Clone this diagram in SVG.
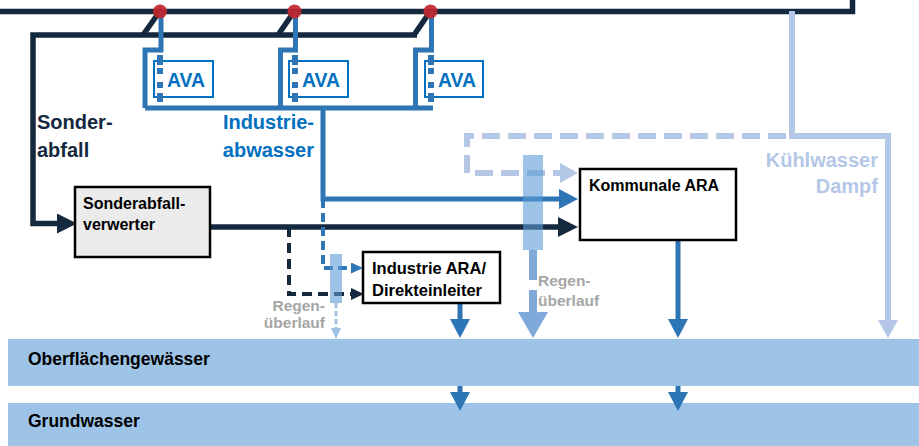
<svg xmlns="http://www.w3.org/2000/svg" width="919" height="446" viewBox="0 0 919 446">
<defs>
<style>
text{font-family:"Liberation Sans",Arial,sans-serif;font-weight:bold}
.dk{stroke:#14283e;fill:none;stroke-width:5.5}
.dkd{stroke:#14283e;fill:none;stroke-width:4;stroke-dasharray:10 6}
.bl{stroke:#2e75b6;fill:none;stroke-width:5}
.bld{stroke:#2e75b6;fill:none;stroke-width:4;stroke-dasharray:9 5}
.lt{stroke:#b4c7e7;fill:none;stroke-width:6}
.ltd{stroke:#b4c7e7;fill:none;stroke-width:6;stroke-dasharray:18 8}
.box{fill:#fff;stroke:#000;stroke-width:2.5}
.box2{fill:#ebebeb;stroke:#000;stroke-width:2.5}
.lbl{fill:#000}
.ava{fill:#fff;stroke:#0070c0;stroke-width:2}
.avat{fill:#0070c0;font-size:20px}
.strip{fill:#2e75b6}
.bar{fill:#5b9bd5;opacity:0.6}
.band{fill:#9dc3e6}
.gray{fill:#a6a6a6;font-size:15.5px}
.dot{fill:#c0272d;opacity:0.92}
.rg{stroke:#7fa9d9;fill:none;stroke-width:8}
.rgs{stroke:#9dc3e6;fill:none;stroke-width:3;stroke-dasharray:5 3}
</style>
<marker id="aDk" markerUnits="userSpaceOnUse" orient="auto" markerWidth="20" markerHeight="20" refX="0" refY="10"><path d="M0,0 L20,10 L0,20 z" fill="#14283e"/></marker>
<marker id="aBl" markerUnits="userSpaceOnUse" orient="auto" markerWidth="19" markerHeight="20" refX="0" refY="10"><path d="M0,0 L19,10 L0,20 z" fill="#2e75b6"/></marker>
<marker id="aLt" markerUnits="userSpaceOnUse" orient="auto" markerWidth="18" markerHeight="20" refX="0" refY="10"><path d="M0,0 L18,10 L0,20 z" fill="#b4c7e7"/></marker>
<marker id="aBlS" markerUnits="userSpaceOnUse" orient="auto" markerWidth="12" markerHeight="11" refX="0" refY="5.5"><path d="M0,0 L12,5.5 L0,11 z" fill="#2e75b6"/></marker>
<marker id="aDkS" markerUnits="userSpaceOnUse" orient="auto" markerWidth="13" markerHeight="12" refX="0" refY="6"><path d="M0,0 L13,6 L0,12 z" fill="#14283e"/></marker>
</defs>
<rect width="919" height="446" fill="#fff"/>

<g id="oberflaechengewaesser">
<rect class="band" x="8" y="339" width="911" height="47"/>
<text class="lbl" x="28" y="365" font-size="17.5">Oberflächengewässer</text>
</g>
<g id="grundwasser">
<rect class="band" x="8" y="403" width="911" height="43"/>
<text class="lbl" x="28" y="427" font-size="17.5">Grundwasser</text>
</g>

<g id="connectors">
<path class="dk" d="M0,11.5 H852.5 V0" stroke-width="6"/>
<path class="dk" d="M143,35 L160,11 M278,35 L294.5,11 M414,35 L430.5,11"/>
<path class="dk" d="M417,35 H33 V223.5 H57" marker-end="url(#aDk)"/>
<path class="dk" d="M210,227 H558" marker-end="url(#aDk)"/>
<path class="dkd" d="M289,227 V294 H351" marker-end="url(#aDkS)"/>
<path class="bl" d="M161,11 V50 H145 V108 M295.5,11 V50 H280.5 V108 M431.5,11 V50 H415.5 V108 M145,108 H433"/>
<path class="bl" d="M323,108 V199 H559" marker-end="url(#aBl)"/>
<path class="bld" d="M323,199 V268 H351" marker-end="url(#aBlS)"/>
<path class="lt" d="M792,11 V136 H888 V320" marker-end="url(#aLt)"/>
<path class="ltd" d="M786,136 H467 V173 H560" marker-end="url(#aLt)"/>
<path class="bl" d="M460,303 V319" stroke-width="9" marker-end="url(#aBl)"/>
<path class="bl" d="M678,240 V319" marker-end="url(#aBl)"/>
<path class="bl" d="M460,386 V392" stroke-width="7" marker-end="url(#aBl)"/>
<path class="bl" d="M678,386 V392" stroke-width="7" marker-end="url(#aBl)"/>
<path class="rg" d="M533,250 V280 M533,290 V313"/>
<polygon points="518,312 548,312 533,338" fill="#7fa9d9"/>
<path class="rgs" d="M336,303 V329"/>
<polygon points="331,328 341,328 336,339" fill="#9dc3e6"/>
</g>

<g id="dots">
<circle class="dot" cx="160" cy="11.5" r="7"/>
<circle class="dot" cx="294.5" cy="11.5" r="7"/>
<circle class="dot" cx="430.5" cy="11.5" r="7"/>
</g>

<g id="ava1">
<rect class="ava" x="154" y="61" width="59" height="36"/>
<rect class="strip" x="157" y="55" width="6" height="10"/>
<rect class="strip" x="157" y="68" width="6" height="6"/>
<rect class="strip" x="157" y="82" width="6" height="6"/>
<rect class="strip" x="157" y="93" width="6" height="9"/>
<text class="avat" x="186" y="87" text-anchor="middle" textLength="38" lengthAdjust="spacingAndGlyphs">AVA</text>
</g>
<g id="ava2">
<rect class="ava" x="289" y="61" width="59" height="36"/>
<rect class="strip" x="292" y="55" width="6" height="10"/>
<rect class="strip" x="292" y="68" width="6" height="6"/>
<rect class="strip" x="292" y="82" width="6" height="6"/>
<rect class="strip" x="292" y="93" width="6" height="9"/>
<text class="avat" x="321" y="87" text-anchor="middle" textLength="38" lengthAdjust="spacingAndGlyphs">AVA</text>
</g>
<g id="ava3">
<rect class="ava" x="425" y="61" width="58" height="36"/>
<rect class="strip" x="428" y="55" width="6" height="10"/>
<rect class="strip" x="428" y="68" width="6" height="6"/>
<rect class="strip" x="428" y="82" width="6" height="6"/>
<rect class="strip" x="428" y="93" width="6" height="9"/>
<text class="avat" x="457" y="87" text-anchor="middle" textLength="38" lengthAdjust="spacingAndGlyphs">AVA</text>
</g>

<g id="label-sonderabfall">
<text x="37" y="129" font-size="20" fill="#14283e">Sonder-</text>
<text x="37" y="157" font-size="20" fill="#14283e">abfall</text>
</g>
<g id="label-industrieabwasser">
<text x="314" y="129" font-size="20" fill="#0070c0" text-anchor="end">Industrie-</text>
<text x="314" y="157" font-size="20" fill="#0070c0" text-anchor="end">abwasser</text>
</g>
<g id="label-kuehlwasser">
<text x="878" y="167" font-size="20" fill="#b4c7e7" text-anchor="end">Kühlwasser</text>
<text x="878" y="193" font-size="20" fill="#b4c7e7" text-anchor="end">Dampf</text>
</g>

<g id="sonderabfallverwerter">
<rect class="box2" x="75" y="187" width="135" height="70"/>
<text class="lbl" x="83" y="209" font-size="16">Sonderabfall-</text>
<text class="lbl" x="83" y="230" font-size="16">verwerter</text>
</g>
<g id="industrie-ara">
<rect class="box" x="363" y="252" width="137" height="51"/>
<text class="lbl" x="372" y="274" font-size="16.5">Industrie ARA/</text>
<text class="lbl" x="372" y="296" font-size="16.5">Direkteinleiter</text>
</g>
<g id="kommunale-ara">
<rect class="box" x="580" y="169" width="156" height="71"/>
<text class="lbl" x="589" y="191" font-size="16">Kommunale ARA</text>
</g>

<g id="regenueberlauf1">
<rect class="bar" x="330" y="254" width="12" height="49"/>
<text class="gray" x="325" y="311" text-anchor="end">Regen-</text>
<text class="gray" x="325" y="328" text-anchor="end">überlauf</text>
</g>
<g id="regenueberlauf2">
<rect class="bar" x="523" y="155" width="20" height="95"/>
<text class="gray" x="538" y="286">Regen-</text>
<text class="gray" x="538" y="306">überlauf</text>
</g>
</svg>
